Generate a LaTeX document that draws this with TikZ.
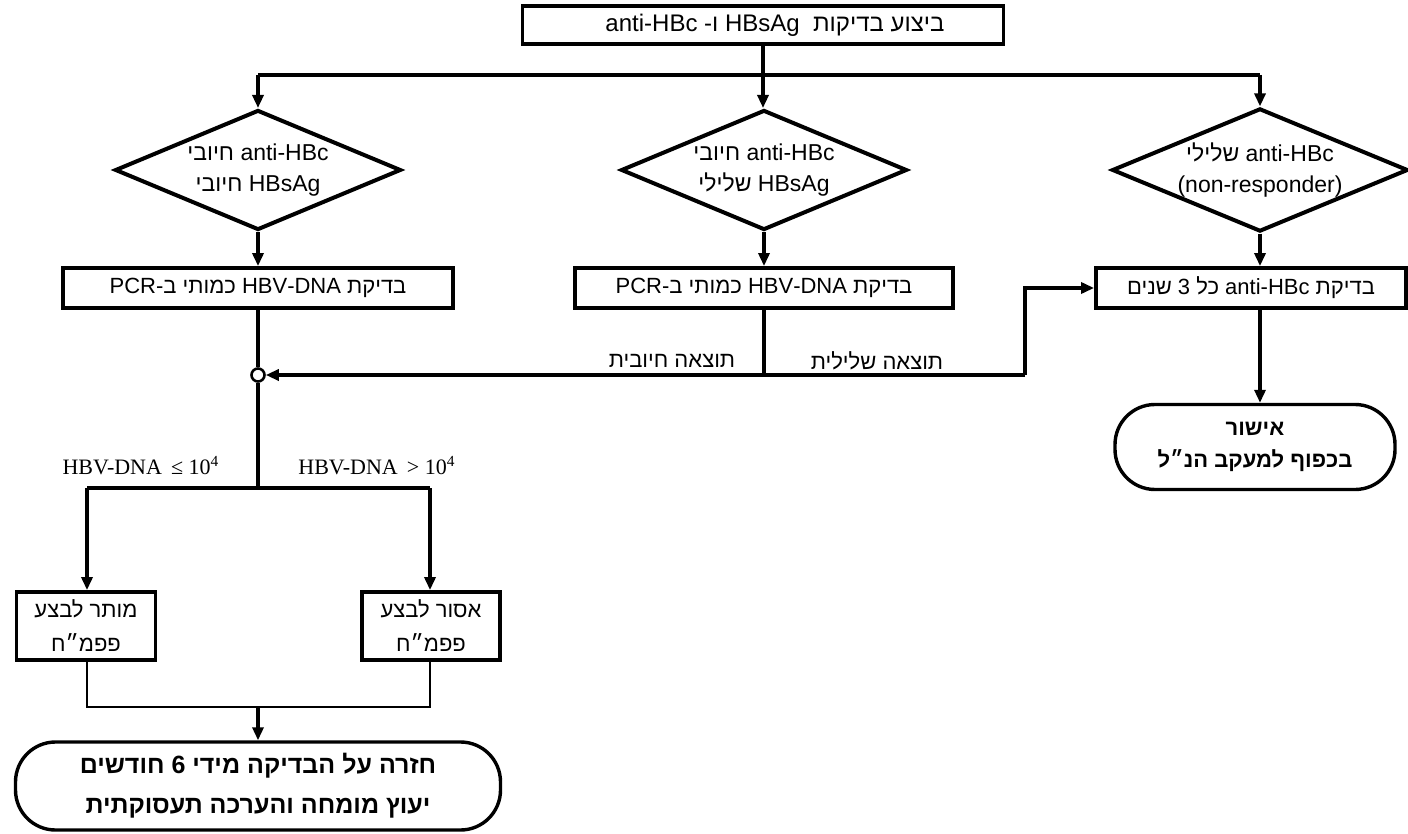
\documentclass[tikz,border=0pt]{standalone}
\usepackage{fontspec}
\setmainfont{Liberation Sans}
\newfontfamily\hebfont[Script=Hebrew]{Liberation Sans}
\newfontfamily\tmsfont{Liberation Serif}
\TeXXeTstate=1
\usetikzlibrary{shapes.geometric,arrows.meta}
\newcommand{\hebr}[1]{\beginR #1\endR}
\newcommand{\ltr}[1]{\beginL #1\endL{}}
\tikzset{
  box/.style={draw, line width=1.9pt, rectangle, inner sep=0pt, align=center,
    font=\hebfont\fontsize{11}{15}\selectfont},
  dia/.style={draw, diamond, line width=2pt, inner sep=0pt, aspect=2.4, align=center,
    minimum width=143pt, minimum height=60pt, font=\hebfont\fontsize{11.5}{15.5}\selectfont},
  term/.style={draw, rounded corners=20pt, line width=1.7pt, inner sep=0pt, align=center,
    font=\hebfont\bfseries\fontsize{11}{16}\selectfont},
  conn/.style={line width=1.6pt},
  thin/.style={line width=1.1pt},
  arr/.style={conn, -{Triangle[length=6.5pt,width=5.5pt]}},
  lbl/.style={font=\hebfont\fontsize{11}{13}\selectfont, inner sep=0pt},
  slbl/.style={font=\tmsfont\fontsize{11}{13}\selectfont, inner sep=0pt},
  junc/.style={draw, circle, line width=1.3pt, fill=white, minimum size=6.5pt, inner sep=0pt},
}
\begin{document}
\begin{tikzpicture}[x=0.5pt,y=-0.5pt]
\useasboundingbox (0,0) rectangle (1408,834);
% top
\node[box, minimum width=240.5pt, minimum height=19pt, font=\hebfont\fontsize{12}{15}\selectfont] (top) at (763,25)
  {\hebr{ביצוע בדיקות\ \ \ltr{HBsAg} ו- \ltr{anti-HBc}\hspace*{12pt}}};
\coordinate (split) at (763,75);
% diamonds
\node[dia] (d1) at (258,170) {\hebr{\ltr{anti-HBc} חיובי}\\\hebr{\ltr{HBsAg} חיובי}};
\node[dia] (d2) at (764,170) {\hebr{\ltr{anti-HBc} חיובי}\\\hebr{\ltr{HBsAg} שלילי}};
\node[dia, minimum width=148pt] (d3) at (1260,170) {\hebr{\ltr{anti-HBc} שלילי}\\\ltr{(non-responder)}};
% second row boxes
\node[box, minimum width=195pt, minimum height=20pt] (b1) at (258,288)
  {\hebr{בדיקת \ltr{HBV-DNA} כמותי ב-\ltr{PCR}}};
\node[box, minimum width=189pt, minimum height=20pt] (b2) at (764,288)
  {\hebr{בדיקת \ltr{HBV-DNA} כמותי ב-\ltr{PCR}}};
\node[box, minimum width=155pt, minimum height=20pt] (b3) at (1251,288)
  {\hebr{בדיקת \ltr{anti-HBc} כל 3 שנים}};
% junction
\node[junc] (j) at (258,375) {};
\coordinate (c) at (1025,375);
\coordinate (low) at (258,488);
\coordinate (lowL) at (87,488);
\coordinate (lowR) at (430,488);
% small boxes
\node[box, minimum width=69.5pt, minimum height=34pt, font=\hebfont\fontsize{11}{17}\selectfont] (s1) at (86,626)
  {\hebr{מותר לבצע}\\\hebr{פפמ״ח}};
\node[box, minimum width=69pt, minimum height=34pt, font=\hebfont\fontsize{11}{17}\selectfont] (s2) at (431,626)
  {\hebr{אסור לבצע}\\\hebr{פפמ״ח}};
\coordinate (mrg) at (258,707);
% terminators
\node[term, minimum width=242.5pt, minimum height=44pt, font=\hebfont\bfseries\fontsize{12.5}{20}\selectfont] (t1) at (258,786)
  {\hebr{חזרה על הבדיקה מידי 6 חודשים}\\\hebr{יעוץ מומחה והערכה תעסוקתית}};
\node[term, minimum width=140pt, minimum height=42.5pt] (t2) at (1255,447)
  {\hebr{אישור}\\\hebr{בכפוף למעקב הנ״ל}};
% connectors top
\draw[conn] (top.south) -- (split);
\draw[conn] (d1.north |- split) -- (d3.north |- split);
\draw[arr] (d1.north |- split) -- (d1.north);
\draw[arr] (split) -- (split |- d2.north);
\draw[arr] (d3.north |- split) -- (d3.north);
\draw[arr] (d1.south) -- (b1.north);
\draw[arr] (d2.south) -- (b2.north);
\draw[arr] (d3.south) -- (d3.south |- b3.north);
% result lines
\draw[conn] (b2.south) -- (b2.south |- c);
\draw[arr] (c) -- (j.east);
\draw[arr] (c) |- (b3.west);
\node[lbl] (lpos) at (672,361) {\hebr{תוצאה חיובית}};
\node[lbl] (lneg) at (877,361) {\hebr{תוצאה שלילית}};
% left branch
\draw[conn] (b1.south) -- (j.north);
\draw[conn] (j.south) -- (low);
\draw[conn] (lowL) -- (lowR);
\draw[arr] (lowL) -- (s1.north -| lowL);
\draw[arr] (lowR) -- (s2.north -| lowR);
\node[slbl] (hl) at (141,466) {HBV-DNA \,≤ 10\textsuperscript{4}};
\node[slbl] (hr) at (377,466) {HBV-DNA \,> 10\textsuperscript{4}};
\draw[thin] (s1.south -| lowL) |- (mrg) -| (s2.south -| lowR);
\draw[arr] (mrg) -- (t1.north);
% right column
\draw[arr] (b3.south -| d3) -- (t2.north -| d3);
\end{tikzpicture}
\end{document}
